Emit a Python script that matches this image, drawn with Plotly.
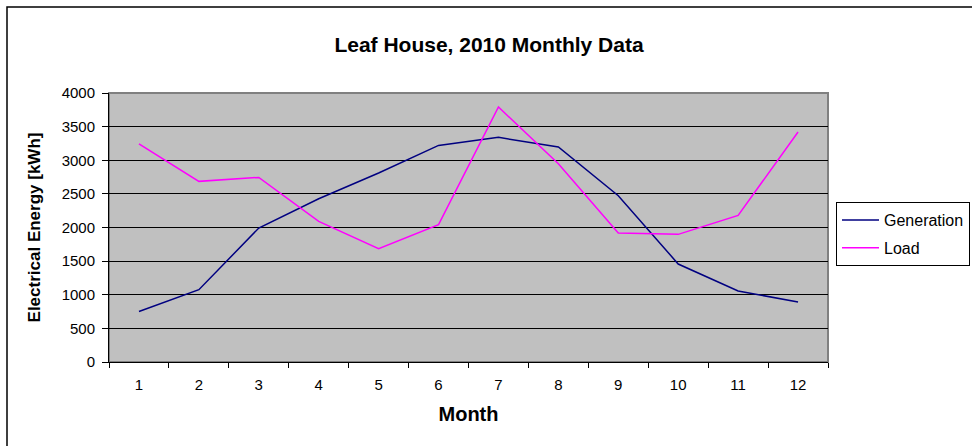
import plotly.graph_objects as go

months = ["1", "2", "3", "4", "5", "6", "7", "8", "9", "10", "11", "12"]
generation = [752, 1075, 1992, 2428, 2810, 3221, 3340, 3197, 2473, 1457, 1056, 892]
load = [3242, 2686, 2745, 2091, 1685, 2042, 3792, 2949, 1918, 1898, 2180, 3420]
y_ticks = [0, 500, 1000, 1500, 2000, 2500, 3000, 3500, 4000]

L, R, T, B = 109, 144, 93, 84
W, H = 972, 446
pw, ph = W - L - R, H - T - B

fig = go.Figure()
fig.add_trace(go.Scatter(x=months, y=generation, mode="lines", name="Generation",
                         legendgroup="g", line=dict(color="#000080", width=1.5)))
fig.add_trace(go.Scatter(x=months, y=load, mode="lines", name="Load",
                         legendgroup="l", line=dict(color="#FF00FF", width=1.5)))

font = "Liberation Sans, Arial, sans-serif"
fig.update_layout(
    width=W, height=H,
    margin=dict(l=L, r=R, t=T, b=B, autoexpand=False),
    paper_bgcolor="white",
    plot_bgcolor="#C0C0C0",
    font=dict(family=font, size=15, color="black"),
    title=dict(text="<b>Leaf House, 2010 Monthly Data</b>", x=489 / W, xanchor="center",
               y=1 - 45 / H, yanchor="middle", font=dict(size=21, family=font)),
    showlegend=True,
    legend=dict(xref="container", yref="container",
                x=836 / W, y=1 - 202 / H, xanchor="left", yanchor="top",
                bordercolor="black", borderwidth=1, bgcolor="white",
                traceorder="grouped", tracegroupgap=4,
                font=dict(size=16, family=font), itemwidth=37),
    xaxis=dict(type="category", categoryorder="array", categoryarray=months,
               range=[-0.5, 11.5], automargin=False,
               tickson="boundaries", ticks="outside", ticklen=5, tickcolor="black",
               ticklabelstandoff=9,
               showline=True, linecolor="black", linewidth=1, showgrid=False,
               tickfont=dict(size=15), title=dict(text="<b>Month</b>", font=dict(size=20), standoff=14)),
    yaxis=dict(range=[0, 4000], tickvals=y_ticks, ticks="outside", ticklen=6, tickcolor="black",
               ticklabelstandoff=4, automargin=False,
               showline=True, linecolor="black", linewidth=1, showgrid=True,
               gridcolor="black", gridwidth=1, zeroline=False,
               tickfont=dict(size=15),
               title=dict(text="<b>Electrical Energy [kWh]</b>", font=dict(size=17), standoff=16)),
)

# plot-area border (grey top/right)
fig.add_shape(type="rect", xref="paper", yref="paper", x0=0, x1=1, y0=0, y1=1,
              line=dict(color="#808080", width=2), layer="below")
# outer chart border
fig.add_shape(type="rect", xref="paper", yref="paper",
              x0=(7 - L) / pw, x1=(W + 20 - L) / pw,
              y0=1 - (H + 20 - T) / ph, y1=1 + (T - 7) / ph,
              line=dict(color="black", width=1.5))

fig.write_html("out.html", config={"displayModeBar": False},
               post_script="document.body.style.margin='0';")
